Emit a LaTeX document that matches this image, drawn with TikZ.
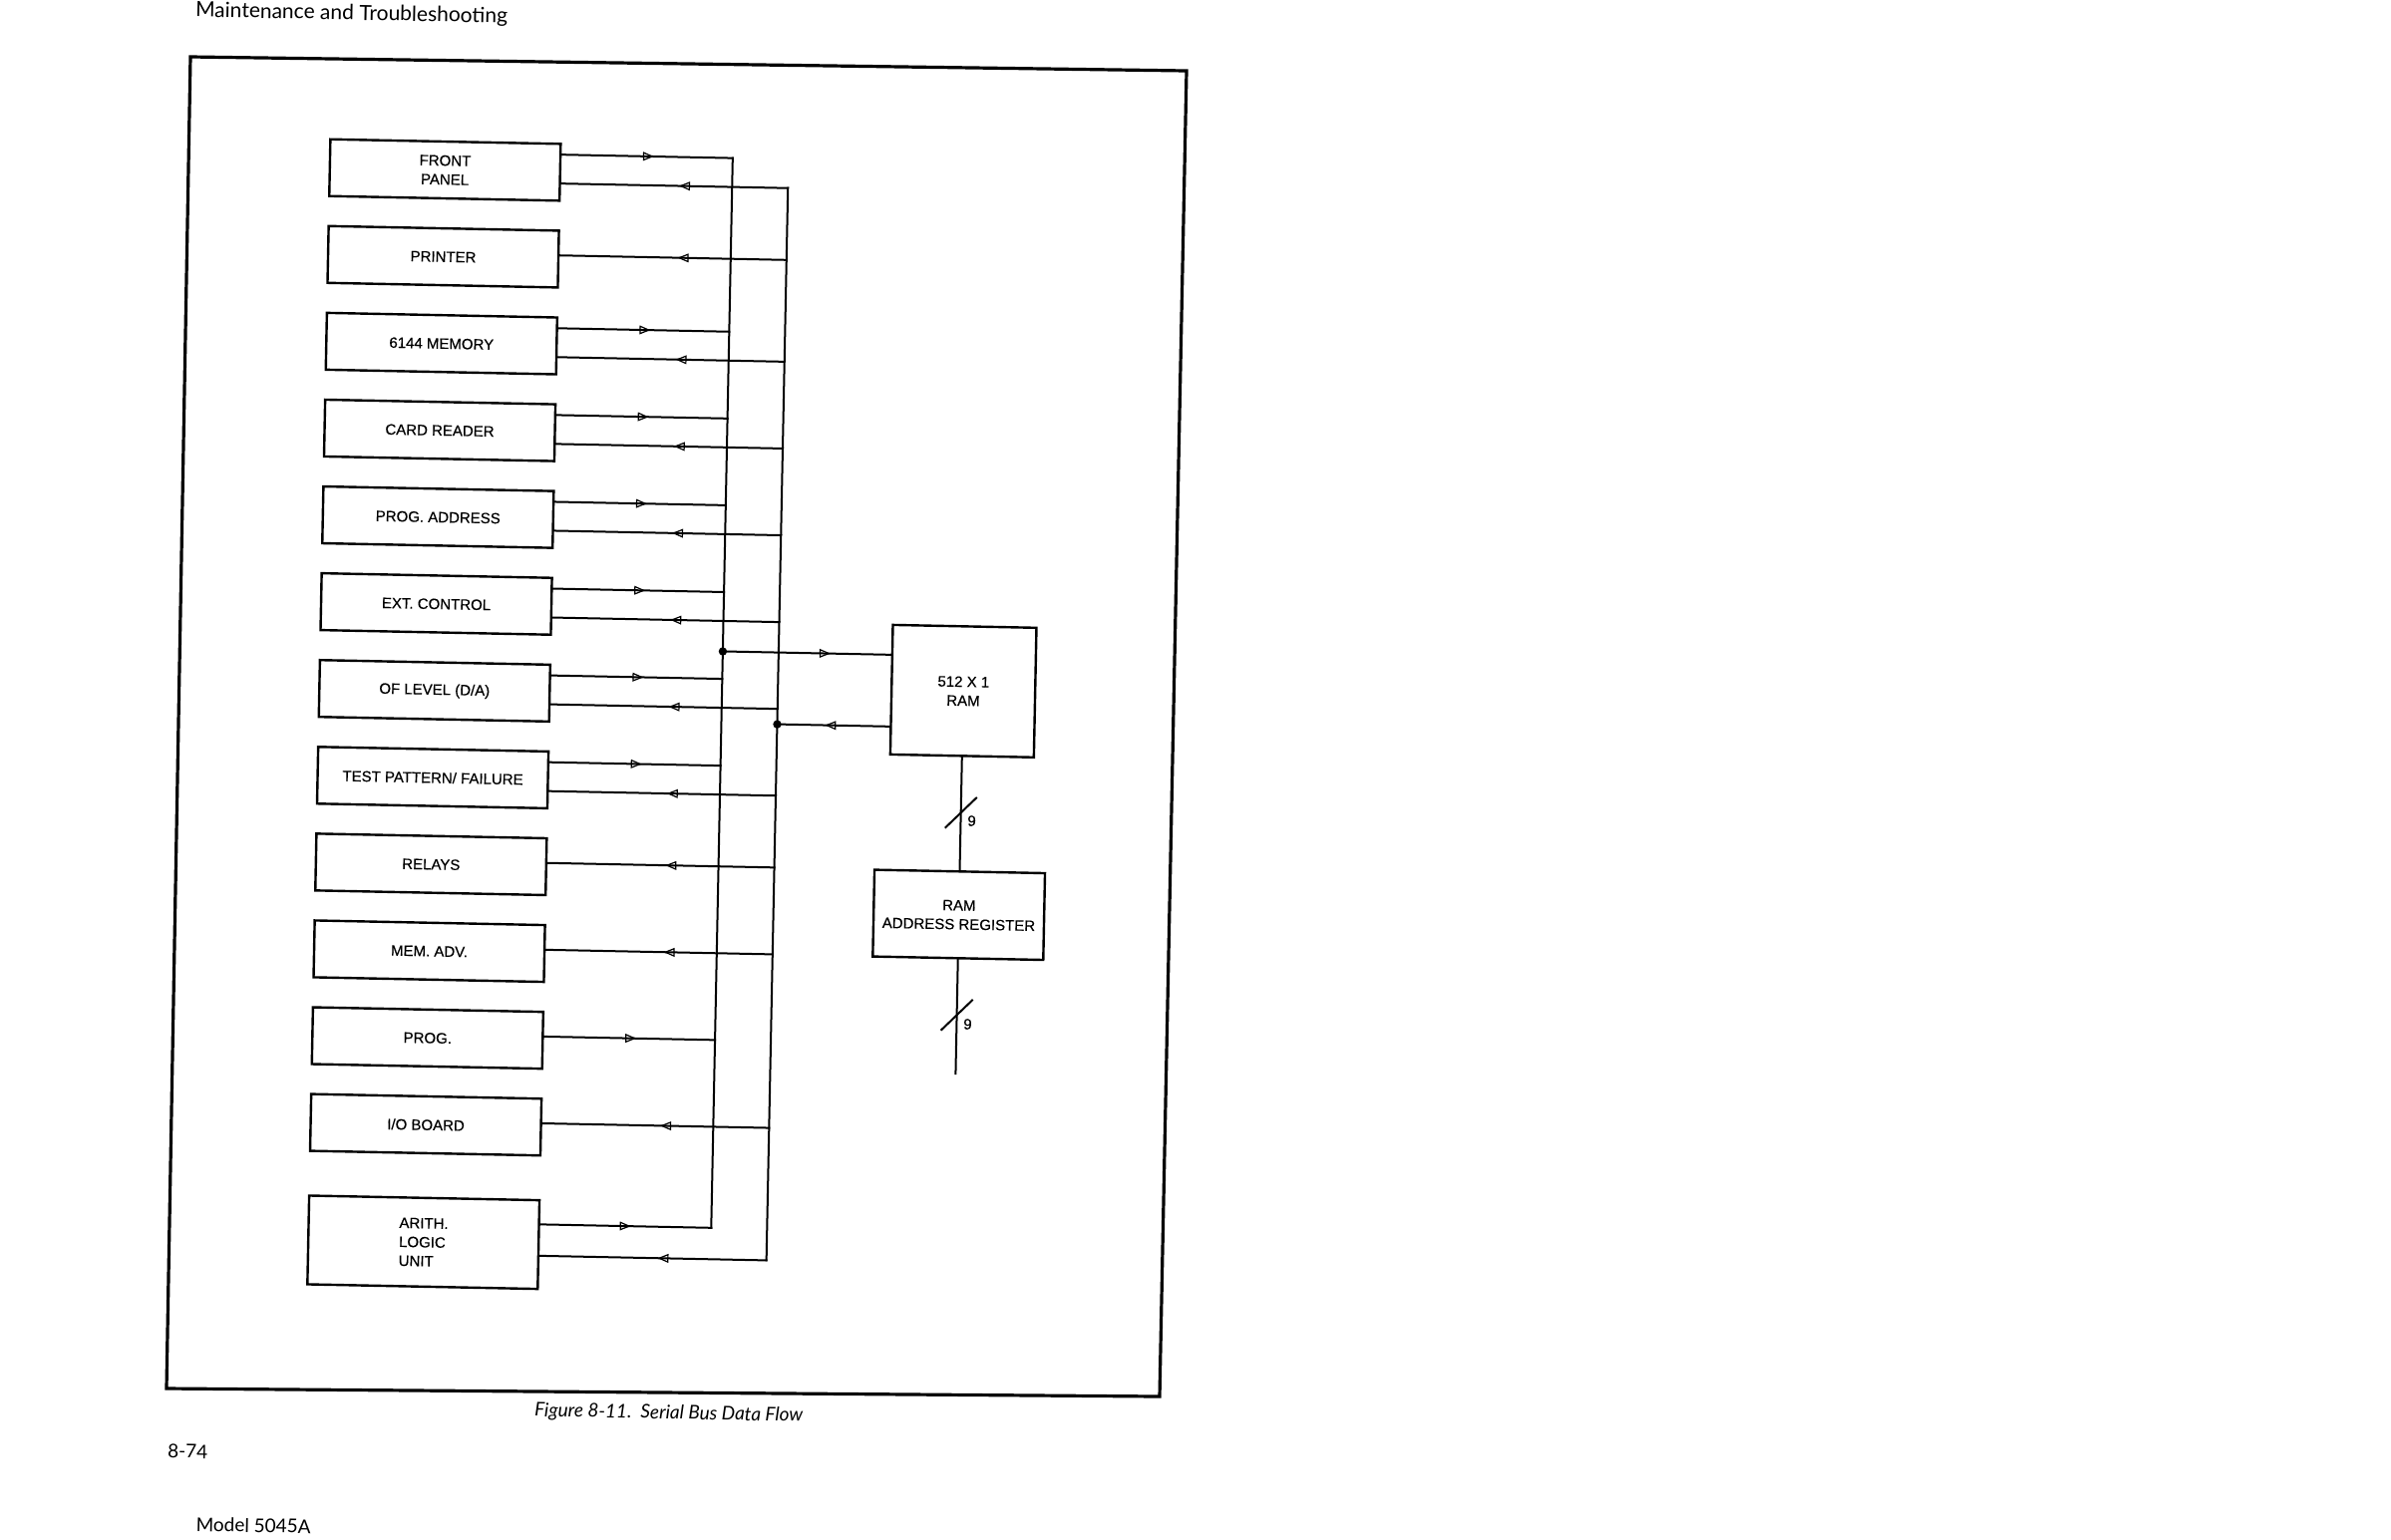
\documentclass[tikz,border=0pt]{standalone}
\usepackage{fontspec}
\setmainfont[FakeBold=0.35]{Liberation Sans}
\newfontfamily\pagefont{Lato}
\usetikzlibrary{arrows.meta,decorations.markings,calc}

\tikzset{
  box/.style={draw, line width=1.2pt, minimum width=115.5pt, minimum height=28.5pt,
    inner sep=0pt, align=center, font=\fontsize{7.5}{9.5}\selectfont, anchor=north west},
  wire/.style={line width=1pt, line cap=rect},
  tipmark/.style={postaction={decorate}, decoration={markings,
    mark=at position #1 with {\arrow{Triangle[open, length=5.5pt, width=4.4pt, line width=0.6pt]}}}},
  jdot/.style={circle, fill, inner sep=0pt, minimum size=4.2pt},
  lbl/.style={font=\fontsize{7.5}{9}\selectfont, inner sep=0pt},
  pagetext/.style={font=\pagefont\fontsize{9.5}{11}\selectfont, inner sep=0pt, anchor=base west},
}

\begin{document}
\begin{tikzpicture}[x=0.5pt, y=-0.5pt]
\useasboundingbox (0,0) rectangle (2398,1544);
\fill[white] (0,0) rectangle (2398,1544);

% frame (as scanned)
\coordinate (fTL) at (191,57);
\coordinate (fTR) at (1190,71);
\coordinate (fBR) at (1163,1401);
\coordinate (fBL) at (167,1393);
\draw[line width=1.6pt, line join=miter] (fTL) -- (fTR) -- (fBR) -- (fBL) -- cycle;

\begin{scope}[rotate around={-1.15:(700,700)}, transform shape]

% page texts
\node[pagetext, font=\pagefont\fontsize{10.5}{12}\selectfont] (hdr) at (182,27) {Maintenance and Troubleshooting};
\node[pagetext, anchor=base, font=\pagefont\itshape\fontsize{9.5}{11}\selectfont] (cap) at (685,1424) {Figure 8-11.\ \ Serial Bus Data Flow};
\node[pagetext] (pgno) at (183,1473) {8-74};
\node[pagetext] (model) at (213,1546) {Model 5045A};

% boxes
\node[box] (fp)  at (319,146)    {FRONT\\PANEL};
\node[box] (pr)  at (319,233.1)  {PRINTER};
\node[box] (mem) at (319,320.2)  {6144 MEMORY};
\node[box] (cr)  at (319,407.3)  {CARD READER};
\node[box] (pa)  at (319,494.4)  {PROG. ADDRESS};
\node[box] (ec)  at (319,581.5)  {EXT. CONTROL};
\node[box] (ol)  at (319,668.6)  {OF LEVEL (D/A)};
\node[box] (tp)  at (319,755.7)  {TEST PATTERN/ FAILURE};
\node[box] (rl)  at (319,842.8)  {RELAYS};
\node[box] (ma)  at (319,929.9)  {MEM. ADV.};
\node[box] (pg)  at (319,1017)   {PROG.};
\node[box] (io)  at (319,1104.1) {I/O BOARD};
\node[box, minimum height=44.5pt, align=left] (alu) at (319,1206) {ARITH.\\LOGIC\\UNIT};

\node[box, anchor=center, minimum width=72pt, minimum height=65pt, text depth=-3pt] (ram) at (966,688) {512 X 1\\RAM};
\node[box, anchor=center, minimum width=85.5pt, minimum height=43.5pt, text depth=-3pt] (rar) at (966,912.5) {RAM\\ADDRESS REGISTER};

% bus coordinates
\coordinate (A0)  at (724,158);
\coordinate (A2)  at (724,332.2);
\coordinate (A3)  at (724,419.3);
\coordinate (A4)  at (724,506.4);
\coordinate (A5)  at (724,593.5);
\coordinate (A6)  at (724,680.6);
\coordinate (A7)  at (724,767.7);
\coordinate (A10) at (724,1043);
\coordinate (A12) at (724,1231.5);
\coordinate (B0)  at (780,187);
\coordinate (B1)  at (780,259.1);
\coordinate (B2)  at (780,361.2);
\coordinate (B3)  at (780,448.3);
\coordinate (B4)  at (780,535.4);
\coordinate (B5)  at (780,622.5);
\coordinate (B6)  at (780,709.6);
\coordinate (B7)  at (780,796.7);
\coordinate (B8)  at (780,868.8);
\coordinate (B9)  at (780,955.9);
\coordinate (B11) at (780,1130.1);
\coordinate (B12) at (780,1263);

% buses
\draw[wire] (A0) -- (A12);
\draw[wire] (B0) -- (B12);

% outputs to bus A
\draw[wire, tipmark=0.54] (fp.east|-A0)   -- (A0);
\draw[wire, tipmark=0.54] (mem.east|-A2)  -- (A2);
\draw[wire, tipmark=0.54] (cr.east|-A3)   -- (A3);
\draw[wire, tipmark=0.54] (pa.east|-A4)   -- (A4);
\draw[wire, tipmark=0.54] (ec.east|-A5)   -- (A5);
\draw[wire, tipmark=0.54] (ol.east|-A6)   -- (A6);
\draw[wire, tipmark=0.54] (tp.east|-A7)   -- (A7);
\draw[wire, tipmark=0.54] (pg.east|-A10)  -- (A10);
\draw[wire, tipmark=0.53] (alu.east|-A12) -- (A12);

% inputs from bus B
\draw[wire, tipmark=0.48] (B0)  -- (fp.east|-B0);
\draw[wire, tipmark=0.48] (B1)  -- (pr.east|-B1);
\draw[wire, tipmark=0.48] (B2)  -- (mem.east|-B2);
\draw[wire, tipmark=0.48] (B3)  -- (cr.east|-B3);
\draw[wire, tipmark=0.48] (B4)  -- (pa.east|-B4);
\draw[wire, tipmark=0.48] (B5)  -- (ec.east|-B5);
\draw[wire, tipmark=0.48] (B6)  -- (ol.east|-B6);
\draw[wire, tipmark=0.48] (B7)  -- (tp.east|-B7);
\draw[wire, tipmark=0.48] (B8)  -- (rl.east|-B8);
\draw[wire, tipmark=0.48] (B9)  -- (ma.east|-B9);
\draw[wire, tipmark=0.48] (B11) -- (io.east|-B11);
\draw[wire, tipmark=0.48] (B12) -- (alu.east|-B12);

% RAM connections
\node[jdot] (jA) at (724,653) {};
\node[jdot] (jB) at (780,725) {};
\draw[wire, tipmark=0.64] (jA.center) -- (ram.west|-jA);
\draw[wire, tipmark=0.575] (ram.west|-jB) -- (jB.center);

\coordinate (busend) at (966,1072);
\draw[wire] (ram.south) -- (rar.north);
\draw[wire] (rar.south) -- (busend);
\draw[wire] (951,825) -- (981,795);
\node[lbl] (n1) at (977,818) {9};
\draw[wire] (951,1028) -- (981,998);
\node[lbl] (n2) at (977,1022) {9};

\end{scope}
\end{tikzpicture}
\end{document}
